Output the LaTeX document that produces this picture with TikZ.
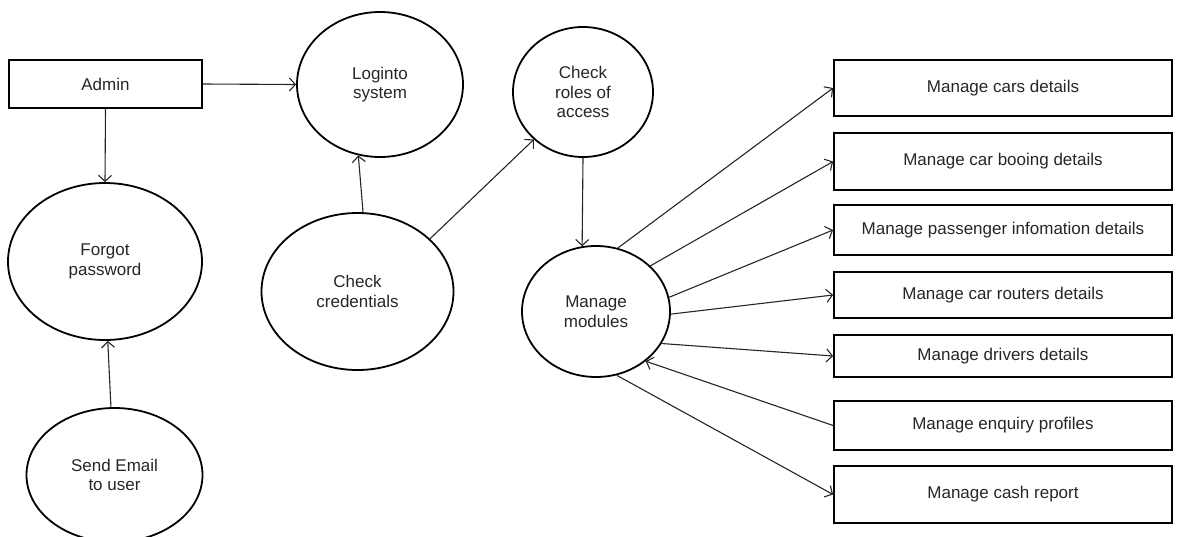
\documentclass[tikz,border=0pt]{standalone}
\usepackage{fontspec}
\setmainfont{Liberation Sans}
\usetikzlibrary{shapes.geometric,arrows.meta}
\begin{document}
\begin{tikzpicture}[x=1pt,y=-1pt,
  every node/.style={font=\fontsize{17}{19.5}\selectfont, align=center, text=black!85},
  oval/.style={ellipse, draw, line width=1.8pt, inner sep=0pt},
  box/.style={rectangle, draw, line width=1.8pt, inner sep=0pt},
  conn/.style={draw=black!85, line width=1.1pt, -{Straight Barb[length=6pt,width=13pt,line width=1.1pt]}}]
\useasboundingbox (0,0) rectangle (1178,536);
% left boxes / ovals
\node[box, minimum width=193pt, minimum height=48pt] (admin) at (105.5,84) {Admin};
\node[oval, minimum width=166pt, minimum height=145pt] (login) at (380,84.5) {Loginto\\system};
\node[oval, minimum width=194pt, minimum height=157pt] (forgot) at (105,261.5) {Forgot\\password};
\node[oval, minimum width=176pt, minimum height=134pt] (email) at (114.5,475) {Send Email\\to user};
\node[oval, minimum width=192pt, minimum height=157pt] (cred) at (357.5,291.5) {Check\\credentials};
\node[oval, minimum width=140pt, minimum height=130pt] (roles) at (583,92) {Check\\roles of\\access};
\node[oval, minimum width=148pt, minimum height=131pt] (mods) at (596,311.5) {Manage\\modules};
% right boxes
\node[box, minimum width=338pt, minimum height=56pt] (b1) at (1003,88) {Manage cars details};
\node[box, minimum width=338pt, minimum height=57pt] (b2) at (1003,161.5) {Manage car booing details};
\node[box, minimum width=338pt, minimum height=50pt] (b3) at (1003,230) {Manage passenger infomation details};
\node[box, minimum width=338pt, minimum height=46pt] (b4) at (1003,295) {Manage car routers details};
\node[box, minimum width=338pt, minimum height=42pt] (b5) at (1003,356) {Manage drivers details};
\node[box, minimum width=338pt, minimum height=49pt] (b6) at (1003,425.5) {Manage enquiry profiles};
\node[box, minimum width=338pt, minimum height=57pt] (b7) at (1003,494.5) {Manage cash report};
% connectors
\draw[conn] (admin.east) -- (login.west);
\draw[conn] (admin.south) -- (forgot.north);
\draw[conn] (email.93) -- (forgot.-88.5);
\draw[conn] (cred.86) -- (login.-107);
\draw[conn] (cred.36) -- (roles.-136);
\draw[conn] (roles.-90) -- (mods.102);
\draw[conn] (mods.71) -- (b1.west);
\draw[conn] (mods.40) -- (b2.west);
\draw[conn] (mods.11) -- (b3.west);
\draw[conn] (mods.-2) -- (b4.west);
\draw[conn] (mods.-26) -- (b5.west);
\draw[conn] (b6.west) -- (mods.-45.5);
\draw[conn] (mods.-72) -- (b7.west);
\end{tikzpicture}
\end{document}
